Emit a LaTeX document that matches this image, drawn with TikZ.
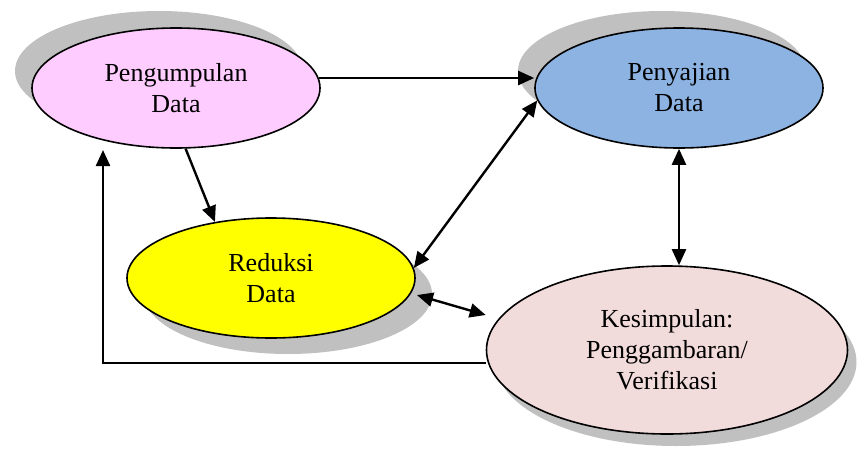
\documentclass[tikz,border=0pt]{standalone}
\usepackage{fontspec}
\setmainfont{Liberation Serif}
\usetikzlibrary{shapes.geometric,arrows.meta,shadows}
\definecolor{cPink}{RGB}{255,204,255}
\definecolor{cBlue}{RGB}{141,179,226}
\definecolor{cYellow}{RGB}{255,255,0}
\definecolor{cRose}{RGB}{242,220,219}
\definecolor{cShadow}{RGB}{192,192,192}
\tikzset{
  stage/.style={ellipse, draw=black, line width=1.6pt, inner sep=0pt, align=center,
    font=\fontsize{26}{31}\selectfont},
  shadowUL/.style={drop shadow={shadow xshift=-17pt, shadow yshift=17pt, opacity=1, fill=cShadow}},
  shadowDR/.style={drop shadow={shadow xshift=17pt, shadow yshift=-16pt, opacity=1, fill=cShadow}},
  shadowDRs/.style={drop shadow={shadow xshift=9pt, shadow yshift=-12pt, opacity=1, fill=cShadow}},
  tipA/.tip={Triangle[length=16pt,width=14pt]},
  arr/.style={line width=2.4pt, -tipA},
  darr/.style={line width=2.4pt, tipA-tipA}
}
\begin{document}
\begin{tikzpicture}[x=1pt,y=-1pt]
\useasboundingbox (0,0) rectangle (857,450);
\node[stage, shadowUL, fill=cPink, minimum width=288pt, minimum height=120pt] (peng) at (176,88) {Pengumpulan\\Data};
\node[stage, shadowUL, fill=cBlue, minimum width=288pt, minimum height=120pt] (pen) at (679,88) {Penyajian\\Data};
\node[stage, shadowDR, fill=cYellow, minimum width=288pt, minimum height=120pt] (red) at (271,278) {Reduksi\\Data};
\node[stage, shadowDRs, fill=cRose, minimum width=361pt, minimum height=168pt] (kes) at (667,350) {Kesimpulan:\\Penggambaran/\\Verifikasi};
\coordinate (tipP) at (103,150);
\draw[arr] (peng.4.4) -- (peng.4.4 -| pen.west);
\draw[arr] (peng.-81) -- (red.135);
\draw[darr] (red.4.4) -- (pen.185.7);
\draw[darr] ([xshift=7pt]red.-7) -- ([yshift=35pt]kes.west);
\draw[darr] (pen.south) -- (pen.south |- kes.north);
\draw[arr] ([yshift=-13pt]kes.west) -| (tipP);
\end{tikzpicture}
\end{document}
